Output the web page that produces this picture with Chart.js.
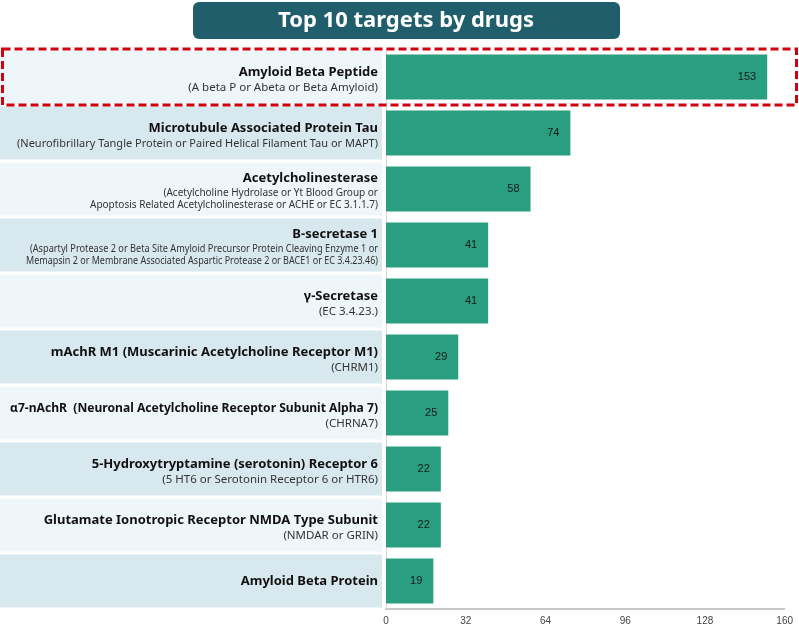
<!DOCTYPE html>
<html>
<head>
<meta charset="utf-8">
<script src="https://cdn.jsdelivr.net/npm/chart.js@4"></script>
<style>
  html, body { margin: 0; padding: 0; background: #fff; }
  #wrap { width: 799px; height: 627px; position: relative; }
</style>
</head>
<body>
<div id="wrap"><canvas id="targets-chart" width="799" height="627"></canvas></div>
<script>
// Chart data
const chartTitle = "Top 10 targets by drugs";
const targetNames = [
    "Amyloid Beta Peptide",
    "Microtubule Associated Protein Tau",
    "Acetylcholinesterase",
    "B-secretase 1",
    "γ-Secretase",
    "mAchR M1 (Muscarinic Acetylcholine Receptor M1)",
    "α7-nAchR  (Neuronal Acetylcholine Receptor Subunit Alpha 7)",
    "5-Hydroxytryptamine (serotonin) Receptor 6",
    "Glutamate Ionotropic Receptor NMDA Type Subunit",
    "Amyloid Beta Protein"
];
const targetAliases = [
    ["(A beta P or Abeta or Beta Amyloid)"],
    ["(Neurofibrillary Tangle Protein or Paired Helical Filament Tau or MAPT)"],
    ["(Acetylcholine Hydrolase or Yt Blood Group or", "Apoptosis Related Acetylcholinesterase or ACHE or EC 3.1.1.7)"],
    ["(Aspartyl Protease 2 or Beta Site Amyloid Precursor Protein Cleaving Enzyme 1 or", "Memapsin 2 or Membrane Associated Aspartic Protease 2 or BACE1 or EC 3.4.23.46)"],
    ["(EC 3.4.23.)"],
    ["(CHRM1)"],
    ["(CHRNA7)"],
    ["(5 HT6 or Serotonin Receptor 6 or HTR6)"],
    ["(NMDAR or GRIN)"],
    []
];
const drugCounts = [153, 74, 58, 41, 41, 29, 25, 22, 22, 19];
const xTicks = [0, 32, 64, 96, 128, 160];

const labelFont = '"Noto Sans", "DejaVu Sans", sans-serif';

// Draws title box, row panels with labels, value labels and the highlight box
const decorPlugin = {
    id: "decor",
    beforeDatasetsDraw(chart) {
        const ctx = chart.ctx;
        const yScale = chart.scales.y;
        const band = (yScale.bottom - yScale.top) / targetNames.length;
        ctx.save();
        targetNames.forEach((name, i) => {
            const cy = yScale.getPixelForValue(i);
            ctx.fillStyle = i % 2 === 0 ? "#eff6f9" : "#d8e8ef";
            ctx.fillRect(0, cy - band / 2 + 1.5, 382, band - 3);

            const aliases = targetAliases[i];
            const x = 378;
            ctx.textAlign = "right";
            ctx.textBaseline = "middle";
            ctx.fillStyle = "#111";
            let mainY = cy;
            if (aliases.length === 1) mainY = cy - 5;
            if (aliases.length === 2) mainY = cy - 11;
            ctx.font = "bold 13px " + labelFont;
            ctx.fillText(name, x, mainY, 368);
            ctx.fillStyle = "#333";
            if (aliases.length === 1) {
                ctx.font = "11.5px " + labelFont;
                ctx.fillText(aliases[0], x, cy + 10.5, 361);
            } else if (aliases.length === 2) {
                ctx.font = "10px " + labelFont;
                ctx.fillText(aliases[0], x, cy + 4, 348);
                ctx.fillText(aliases[1], x, cy + 16, 352);
            }
        });
        ctx.restore();
    },
    afterDraw(chart) {
        const ctx = chart.ctx;
        const xScale = chart.scales.x;
        const yScale = chart.scales.y;
        const band = (yScale.bottom - yScale.top) / targetNames.length;
        ctx.save();

        // value labels at bar ends
        ctx.font = "11px Arial, 'Liberation Sans', sans-serif";
        ctx.fillStyle = "#1a1a1a";
        ctx.textAlign = "right";
        ctx.textBaseline = "middle";
        drugCounts.forEach((v, i) => {
            ctx.fillText(String(v), xScale.getPixelForValue(v) - 11, yScale.getPixelForValue(i));
        });

        // title box
        ctx.fillStyle = "#215e6b";
        ctx.beginPath();
        ctx.roundRect(193, 2, 427, 37, 6);
        ctx.fill();
        ctx.fillStyle = "#ffffff";
        ctx.textAlign = "center";
        ctx.font = "bold 22px " + labelFont;
        ctx.fillText(chartTitle, 406, 21);

        // red dashed highlight around the first row
        const cy0 = yScale.getPixelForValue(0);
        ctx.strokeStyle = "#d0000f";
        ctx.lineWidth = 3;
        ctx.setLineDash([8, 4]);
        ctx.strokeRect(2.5, cy0 - band / 2, 794, band);
        ctx.restore();
    }
};

new Chart(document.getElementById("targets-chart").getContext("2d"), {
    type: "bar",
    data: {
        labels: targetNames,
        datasets: [{
            data: drugCounts,
            backgroundColor: "#2a9e80",
            borderWidth: 0,
            categoryPercentage: 0.8,
            barPercentage: 1.0
        }]
    },
    options: {
        indexAxis: "y",
        responsive: false,
        animation: false,
        layout: { padding: { left: 386, right: 14, top: 49, bottom: -6 } },
        plugins: {
            legend: { display: false },
            tooltip: { enabled: false }
        },
        scales: {
            x: {
                min: 0,
                max: 160,
                afterBuildTicks: (axis) => {
                    axis.ticks = xTicks.map((v) => ({ value: v }));
                },
                grid: { display: false, drawTicks: false },
                border: { display: true, color: "#c8c8c8", width: 2 },
                ticks: {
                    color: "#444",
                    font: { size: 10, family: "Arial, 'Liberation Sans', sans-serif" },
                    padding: 6
                }
            },
            y: {
                grid: { display: false, drawTicks: false },
                border: { display: true, color: "#d8d8d8", width: 1 },
                ticks: { display: false }
            }
        }
    },
    plugins: [decorPlugin]
});
</script>
</body>
</html>
